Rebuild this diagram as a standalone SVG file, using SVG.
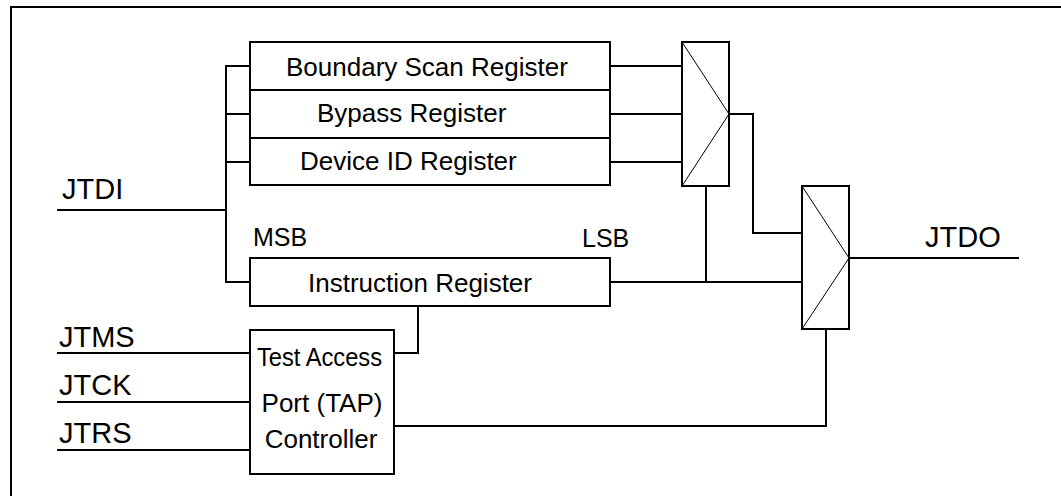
<svg xmlns="http://www.w3.org/2000/svg" width="1061" height="496" viewBox="0 0 1061 496">
<style>
.box{fill:#fff;stroke:#000;stroke-width:2}
.w{fill:none;stroke:#000;stroke-width:2}
.d{fill:none;stroke:#000;stroke-width:1}
.t{font-family:"Liberation Sans",Arial,sans-serif;fill:#000}
.reg{font-size:26px}
.sig{font-size:29px}
.bit{font-size:25px}
</style>
<rect x="0" y="0" width="1061" height="496" fill="#fff"/>
<rect id="frame" x="11" y="7" width="1100" height="600" fill="none" stroke="#000" stroke-width="2"/>
<g id="connectors">
<polyline class="w" points="57,210 226,210"/>
<polyline class="w" points="250,66 226,66 226,282 250,282"/>
<polyline class="w" points="226,114 250,114"/>
<polyline class="w" points="226,162 250,162"/>
<polyline class="w" points="610,66 682,66"/>
<polyline class="w" points="610,114 682,114"/>
<polyline class="w" points="610,162 682,162"/>
<polyline class="w" points="729,114 753,114 753,233 802,233"/>
<polyline class="w" points="706,186 706,282"/>
<polyline class="w" points="610,282 802,282"/>
<polyline class="w" points="849,258 1019,258"/>
<polyline class="w" points="418,306 418,353 394,353"/>
<polyline class="w" points="394,426 826,426 826,329"/>
<polyline class="w" points="57,353 250,353"/>
<polyline class="w" points="57,402 250,402"/>
<polyline class="w" points="57,450 250,450"/>
</g>
<g id="bsr">
<rect class="box" x="250" y="42" width="360" height="48"/>
<text class="t reg" x="286" y="76">Boundary Scan Register</text>
</g>
<g id="bypass">
<rect class="box" x="250" y="90" width="360" height="48"/>
<text class="t reg" x="317" y="122">Bypass Register</text>
</g>
<g id="devid">
<rect class="box" x="250" y="138" width="360" height="47"/>
<text class="t reg" x="300" y="170">Device ID Register</text>
</g>
<g id="ir">
<rect class="box" x="250" y="258" width="360" height="48"/>
<text class="t reg" x="308" y="292">Instruction Register</text>
<text class="t bit" x="253" y="246">MSB</text>
<text class="t bit" x="582" y="247">LSB</text>
</g>
<g id="tap">
<rect class="box" x="250" y="330" width="144" height="144"/>
<text class="t reg" x="257" y="366" textLength="125" lengthAdjust="spacingAndGlyphs">Test Access</text>
<text class="t reg" x="322" y="412" text-anchor="middle">Port (TAP)</text>
<text class="t reg" x="321" y="448" text-anchor="middle">Controller</text>
</g>
<g id="mux1">
<rect class="box" x="682" y="42" width="47" height="144"/>
<polyline class="d" points="682,42 729,114 682,186"/>
</g>
<g id="mux2">
<rect class="box" x="802" y="186" width="47" height="143"/>
<polyline class="d" points="802,186 849,258 802,329"/>
</g>
<g id="labels">
<text class="t sig" x="62" y="199">JTDI</text>
<text class="t sig" x="925" y="247">JTDO</text>
<text class="t sig" x="59" y="347">JTMS</text>
<text class="t sig" x="59" y="395">JTCK</text>
<text class="t sig" x="59" y="443">JTRS</text>
</g>
</svg>
